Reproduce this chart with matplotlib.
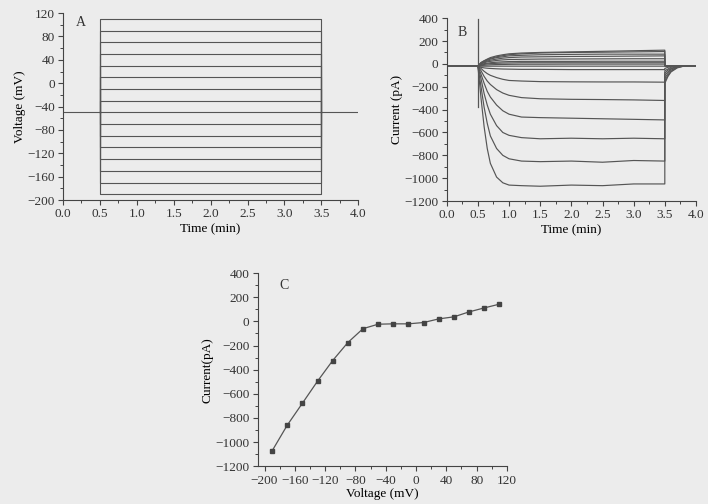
import matplotlib
matplotlib.use("Agg")
import matplotlib.pyplot as plt
from matplotlib import rcParams
from matplotlib.ticker import MultipleLocator

rcParams['font.family'] = 'Liberation Serif'
rcParams['font.size'] = 9.5
rcParams['axes.linewidth'] = 0.8

bg = '#ececec'
ink = '#555555'

# Panel A: voltage protocol
step_volt = [-190, -170, -150, -130, -110, -90, -70, -50, -30, -10, 10, 30, 50, 70, 90, 110]
holding = -50
t_on, t_off, t_end = 0.5, 3.5, 4.0

# Panel B: current traces (pA), one per voltage step
tb = [0.0, 0.5, 0.55, 0.6, 0.65, 0.7, 0.8, 0.9, 1.0, 1.2, 1.5, 2.0, 2.5, 3.0, 3.5,
      3.5, 3.55, 3.6, 3.7, 3.8, 4.0]
cur_m190 = [-15, -20, -300, -550, -740, -870, -990, -1040, -1060, -1065, -1070, -1060, -1065, -1050, -1050, -170, -110, -70, -35, -20, -20]
cur_m170 = [-15, -20, -200, -380, -520, -630, -740, -800, -830, -850, -855, -850, -860, -845, -850, -150, -100, -65, -30, -20, -20]
cur_m150 = [-15, -20, -130, -260, -360, -440, -540, -600, -625, -645, -655, -650, -655, -650, -655, -125, -85, -55, -28, -20, -20]
cur_m130 = [-15, -20, -90, -170, -240, -290, -360, -410, -440, -465, -470, -475, -480, -485, -490, -100, -70, -45, -25, -20, -20]
cur_m110 = [-15, -20, -60, -110, -150, -180, -225, -255, -275, -295, -305, -310, -312, -315, -320, -80, -55, -40, -22, -20, -20]
cur_m90 = [-15, -20, -40, -65, -85, -100, -120, -135, -145, -150, -155, -157, -158, -158, -160, -60, -45, -30, -20, -20, -20]
cur_m70 = [-15, -20, -30, -35, -38, -40, -43, -45, -46, -48, -48, -50, -50, -50, -50, -40, -30, -25, -20, -20, -20]
cur_m50 = [-15, -20, -20, -20, -20, -20, -20, -20, -20, -20, -20, -20, -20, -20, -20, -20, -20, -20, -20, -20, -20]
cur_m30 = [-15, -20, -15, -12, -10, -8, -6, -5, -4, -3, -3, -2, -2, -2, -2, -15, -18, -20, -20, -20, -20]
cur_m10 = [-15, -20, -10, -5, 0, 2, 5, 7, 8, 10, 10, 10, 10, 10, 10, -15, -18, -20, -20, -20, -20]
cur_p10 = [-15, -20, -5, 2, 6, 10, 15, 18, 20, 22, 22, 22, 23, 23, 23, -15, -18, -20, -20, -20, -20]
cur_p30 = [-15, -20, 0, 10, 18, 22, 30, 35, 38, 40, 42, 43, 44, 45, 45, -15, -18, -20, -20, -20, -20]
cur_p50 = [-15, -20, 5, 15, 25, 32, 42, 50, 55, 60, 62, 65, 66, 68, 70, -15, -18, -20, -20, -20, -20]
cur_p70 = [-15, -20, 8, 22, 32, 42, 55, 62, 70, 75, 80, 83, 85, 85, 85, -15, -18, -20, -20, -20, -20]
cur_p90 = [-15, -20, 10, 25, 38, 48, 62, 72, 80, 88, 95, 100, 102, 105, 108, -15, -18, -20, -20, -20, -20]
cur_p110 = [-15, -20, 12, 28, 42, 55, 70, 80, 88, 95, 100, 105, 110, 115, 120, -15, -18, -20, -20, -20, -20]
traces = [cur_m190, cur_m170, cur_m150, cur_m130, cur_m110, cur_m90, cur_m70, cur_m50,
          cur_m30, cur_m10, cur_p10, cur_p30, cur_p50, cur_p70, cur_p90, cur_p110]
spike_t = [0.5, 0.5]
spike_i = [390, -380]

# Panel C: steady-state I-V
iv_volt = [-190, -170, -150, -130, -110, -90, -70, -50, -30, -10, 10, 30, 50, 70, 90, 110]
iv_cur = [-1073, -860, -678, -495, -324, -175, -60, -23, -20, -20, -9, 21, 38, 79, 112, 143]


def style(ax, label, lx, ly):
    ax.set_facecolor(bg)
    for s in ['top', 'right']:
        ax.spines[s].set_visible(False)
    for s in ['left', 'bottom']:
        ax.spines[s].set_color('#444444')
    ax.tick_params(which='both', direction='out', colors='#444444', labelcolor='#333333')
    ax.tick_params(which='major', length=3.5, width=0.8, pad=2.5)
    ax.tick_params(which='minor', length=2, width=0.7)
    ax.text(lx, ly, label, transform=ax.transAxes, fontsize=10, color='#333333')


fig = plt.figure(figsize=(7.08, 5.04), dpi=100, facecolor=bg)

# A
axA = fig.add_axes([0.089, 0.603, 0.417, 0.371])
for v in step_volt:
    axA.plot([t_on, t_on, t_off, t_off], [holding, v, v, holding], color=ink, lw=0.8)
axA.plot([0, t_on], [holding, holding], color=ink, lw=0.8)
axA.plot([t_off, t_end], [holding, holding], color=ink, lw=0.8)
axA.set_xlim(0, 4)
axA.set_ylim(-200, 120)
axA.xaxis.set_major_locator(MultipleLocator(0.5))
axA.xaxis.set_minor_locator(MultipleLocator(0.25))
axA.yaxis.set_major_locator(MultipleLocator(40))
axA.yaxis.set_minor_locator(MultipleLocator(20))
axA.set_xlabel("Time (min)", labelpad=2)
axA.set_ylabel("Voltage (mV)", labelpad=1)
style(axA, "A", 0.045, 0.93)

# B
axB = fig.add_axes([0.631, 0.601, 0.352, 0.363])
for tr in traces:
    axB.plot(tb, tr, color=ink, lw=0.85)
axB.plot(spike_t, spike_i, color=ink, lw=0.9)
axB.set_xlim(0, 4)
axB.set_ylim(-1200, 400)
axB.xaxis.set_major_locator(MultipleLocator(0.5))
axB.xaxis.set_minor_locator(MultipleLocator(0.25))
axB.yaxis.set_major_locator(MultipleLocator(200))
axB.yaxis.set_minor_locator(MultipleLocator(100))
axB.set_xlabel("Time (min)", labelpad=2)
axB.set_ylabel("Current (pA)", labelpad=1)
style(axB, "B", 0.045, 0.9)

# C
axC = fig.add_axes([0.364, 0.075, 0.352, 0.383])
axC.plot(iv_volt, iv_cur, color=ink, lw=0.9, marker='s', markersize=3.5,
         markerfacecolor='#444444', markeredgecolor='#444444')
axC.set_xlim(-209, 120)
axC.set_ylim(-1200, 400)
axC.xaxis.set_major_locator(MultipleLocator(40))
axC.xaxis.set_minor_locator(MultipleLocator(20))
axC.yaxis.set_major_locator(MultipleLocator(200))
axC.yaxis.set_minor_locator(MultipleLocator(100))
axC.set_xlabel("Voltage (mV)", labelpad=1)
axC.set_ylabel("Current(pA)", labelpad=1)
style(axC, "C", 0.085, 0.92)

fig.savefig("out.png", dpi=100, facecolor=bg)
